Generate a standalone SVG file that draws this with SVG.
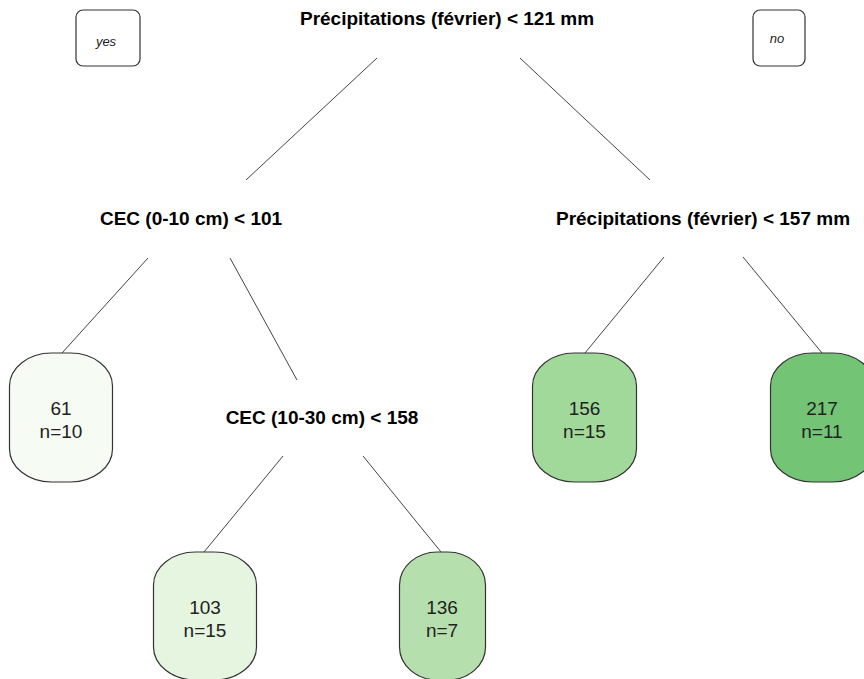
<svg xmlns="http://www.w3.org/2000/svg" width="864" height="679" viewBox="0 0 864 679">
<style>
.split{font-family:"Liberation Sans",Arial,sans-serif;font-weight:bold;font-size:19px;fill:#000;text-anchor:middle}
.leaf{font-family:"Liberation Sans",Arial,sans-serif;font-size:19px;fill:#222;text-anchor:middle}
.lbl{font-family:"Liberation Sans",Arial,sans-serif;font-style:italic;font-size:13px;fill:#222;text-anchor:middle}
.box{stroke:#333;stroke-width:1.2}
.yn{fill:#fff;stroke:#333;stroke-width:1.2}
.edge{stroke:#444;stroke-width:1;fill:none}
</style>
<rect width="864" height="679" fill="#fff"/>
<g id="connectors">
<line class="edge" x1="377" y1="58" x2="246" y2="180"/>
<line class="edge" x1="520" y1="58" x2="650" y2="180"/>
<line class="edge" x1="148" y1="258" x2="62" y2="353"/>
<line class="edge" x1="230" y1="258" x2="297" y2="380"/>
<line class="edge" x1="664" y1="257" x2="585" y2="353"/>
<line class="edge" x1="743" y1="257" x2="822" y2="353"/>
<line class="edge" x1="283" y1="456" x2="204" y2="552"/>
<line class="edge" x1="363" y1="456" x2="441" y2="552"/>
</g>
<g id="yes"><rect class="yn" x="76" y="10" width="64" height="56" rx="7"/><text class="lbl" x="106" y="46">yes</text></g>
<g id="no"><rect class="yn" x="753" y="10" width="52" height="56" rx="7"/><text class="lbl" x="777" y="43">no</text></g>
<g id="root"><text class="split" x="447" y="25">Précipitations (février) &lt; 121 mm</text></g>
<g id="cec010"><text class="split" x="191" y="225">CEC (0-10 cm) &lt; 101</text></g>
<g id="prec157"><text class="split" x="703" y="225">Précipitations (février) &lt; 157 mm</text></g>
<g id="cec1030"><text class="split" x="322" y="424">CEC (10-30 cm) &lt; 158</text></g>
<g id="leaf61"><rect class="box" x="9.5" y="353" width="103" height="129" rx="42" ry="33" fill="#F6FBF3"/><text class="leaf" x="61" y="415">61</text><text class="leaf" x="61" y="438">n=10</text></g>
<g id="leaf156"><rect class="box" x="532.5" y="353" width="104" height="129" rx="42" ry="33" fill="#A1D99B"/><text class="leaf" x="584.5" y="415">156</text><text class="leaf" x="584.5" y="438">n=15</text></g>
<g id="leaf217"><rect class="box" x="770.5" y="353" width="104" height="129" rx="42" ry="33" fill="#74C476"/><text class="leaf" x="822" y="415">217</text><text class="leaf" x="822" y="438">n=11</text></g>
<g id="leaf103"><rect class="box" x="153.5" y="552" width="103" height="128" rx="42" ry="33" fill="#E5F5E0"/><text class="leaf" x="205" y="614">103</text><text class="leaf" x="205" y="637">n=15</text></g>
<g id="leaf136"><rect class="box" x="399.5" y="552" width="86" height="128" rx="38" ry="33" fill="#B5E0AD"/><text class="leaf" x="442" y="614">136</text><text class="leaf" x="442" y="637">n=7</text></g>
</svg>
